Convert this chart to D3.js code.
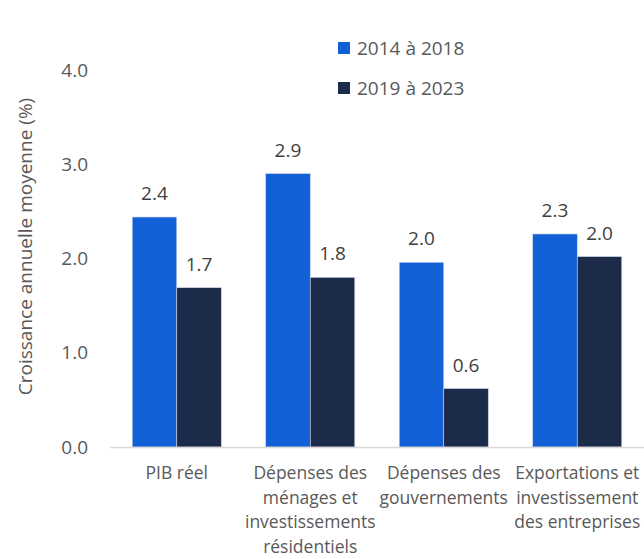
<!DOCTYPE html>
<html>
<head>
<meta charset="utf-8">
<script src="https://cdn.jsdelivr.net/npm/d3@7"></script>
<style>
  body { margin: 0; background: #fff; }
  text { font-family: "Open Sans", "Noto Sans", sans-serif; }
</style>
</head>
<body>
<div id="chart"></div>
<script>
const categories = [
    ["PIB réel"],
    ["Dépenses des", "ménages et", "investissements", "résidentiels"],
    ["Dépenses des", "gouvernements"],
    ["Exportations et", "investissement", "des entreprises"]
];
const seriesNames = ["2014 à 2018", "2019 à 2023"];
const series1 = [2.44, 2.90, 1.96, 2.26];
const series2 = [1.69, 1.80, 0.62, 2.02];
const labels1 = ["2.4", "2.9", "2.0", "2.3"];
const labels2 = ["1.7", "1.8", "0.6", "2.0"];
const yTicks = [0, 1, 2, 3, 4];
const colors = ["#1160d6", "#1d2b4a"];

const width = 644, height = 559;
const margin = { top: 70, right: 0, bottom: 112, left: 110 };
const innerW = width - margin.left - margin.right;
const innerH = height - margin.top - margin.bottom;

const svg = d3.select('#chart')
    .append('svg')
    .attr('width', width)
    .attr('height', height);

const g = svg.append('g')
    .attr('transform', `translate(${margin.left}, ${margin.top})`);

const x = d3.scaleBand()
    .domain(d3.range(categories.length))
    .range([0, innerW])
    .paddingInner(0.333)
    .paddingOuter(0.1665);

const x1 = d3.scaleBand()
    .domain([0, 1])
    .range([0, x.bandwidth()]);

const y = d3.scaleLinear()
    .domain([0, 4])
    .range([innerH, 0]);

// y tick labels
g.selectAll('.ytick')
    .data(yTicks)
    .enter()
    .append('text')
    .attr('x', -22)
    .attr('y', d => y(d))
    .attr('dy', '0.35em')
    .attr('text-anchor', 'end')
    .style('font-size', '19px')
    .style('fill', '#595959')
    .text(d => d.toFixed(1));

// y title
svg.append('text')
    .attr('transform', `translate(32, ${margin.top + innerH / 2 - 12}) rotate(-90)`)
    .attr('text-anchor', 'middle')
    .style('font-size', '19px')
    .style('fill', '#595959')
    .text('Croissance annuelle moyenne (%)');

const data = categories.map((c, i) => ({ i: i, vals: [series1[i], series2[i]], labs: [labels1[i], labels2[i]] }));

const groups = g.selectAll('.grp')
    .data(data)
    .enter()
    .append('g')
    .attr('transform', d => `translate(${x(d.i)}, 0)`);

groups.selectAll('rect')
    .data(d => d.vals.map((v, k) => ({ v: v, k: k, lab: d.labs[k] })))
    .enter()
    .append('rect')
    .attr('x', d => x1(d.k))
    .attr('y', d => y(d.v))
    .attr('width', x1.bandwidth())
    .attr('height', d => innerH - y(d.v))
    .style('fill', d => colors[d.k])
    .style('stroke', '#c9d3e6')
    .style('stroke-width', 0.6);

groups.selectAll('.val')
    .data(d => d.vals.map((v, k) => ({ v: v, k: k, lab: d.labs[k] })))
    .enter()
    .append('text')
    .attr('x', d => x1(d.k) + x1.bandwidth() / 2)
    .attr('y', d => y(d.v) - 17)
    .attr('text-anchor', 'middle')
    .style('font-size', '19px')
    .style('fill', '#404040')
    .text(d => d.lab);

// baseline
g.append('line')
    .attr('x1', 0)
    .attr('x2', innerW)
    .attr('y1', y(0) + 0.5)
    .attr('y2', y(0) + 0.5)
    .style('stroke', '#d9d9d9')
    .style('stroke-width', 1.5);

// category labels
const cat = g.selectAll('.cat')
    .data(categories)
    .enter()
    .append('text')
    .attr('text-anchor', 'middle')
    .style('font-size', '17.5px')
    .style('fill', '#595959');

cat.selectAll('tspan')
    .data((d, i) => d.map(line => ({ line: line, i: i })))
    .enter()
    .append('tspan')
    .attr('x', d => x(d.i) + x.bandwidth() / 2)
    .attr('y', (d, j) => innerH + 32 + j * 24.5)
    .text(d => d.line);

// legend
const legend = svg.selectAll('.legend')
    .data(seriesNames)
    .enter()
    .append('g')
    .attr('transform', (d, i) => `translate(338, ${48 + i * 40})`);

legend.append('rect')
    .attr('x', 0)
    .attr('y', -6)
    .attr('width', 12)
    .attr('height', 12)
    .style('fill', (d, i) => colors[i]);

legend.append('text')
    .attr('x', 19)
    .attr('y', 0)
    .attr('dy', '0.35em')
    .style('font-size', '19px')
    .style('fill', '#595959')
    .text(d => d);
</script>
</body>
</html>
